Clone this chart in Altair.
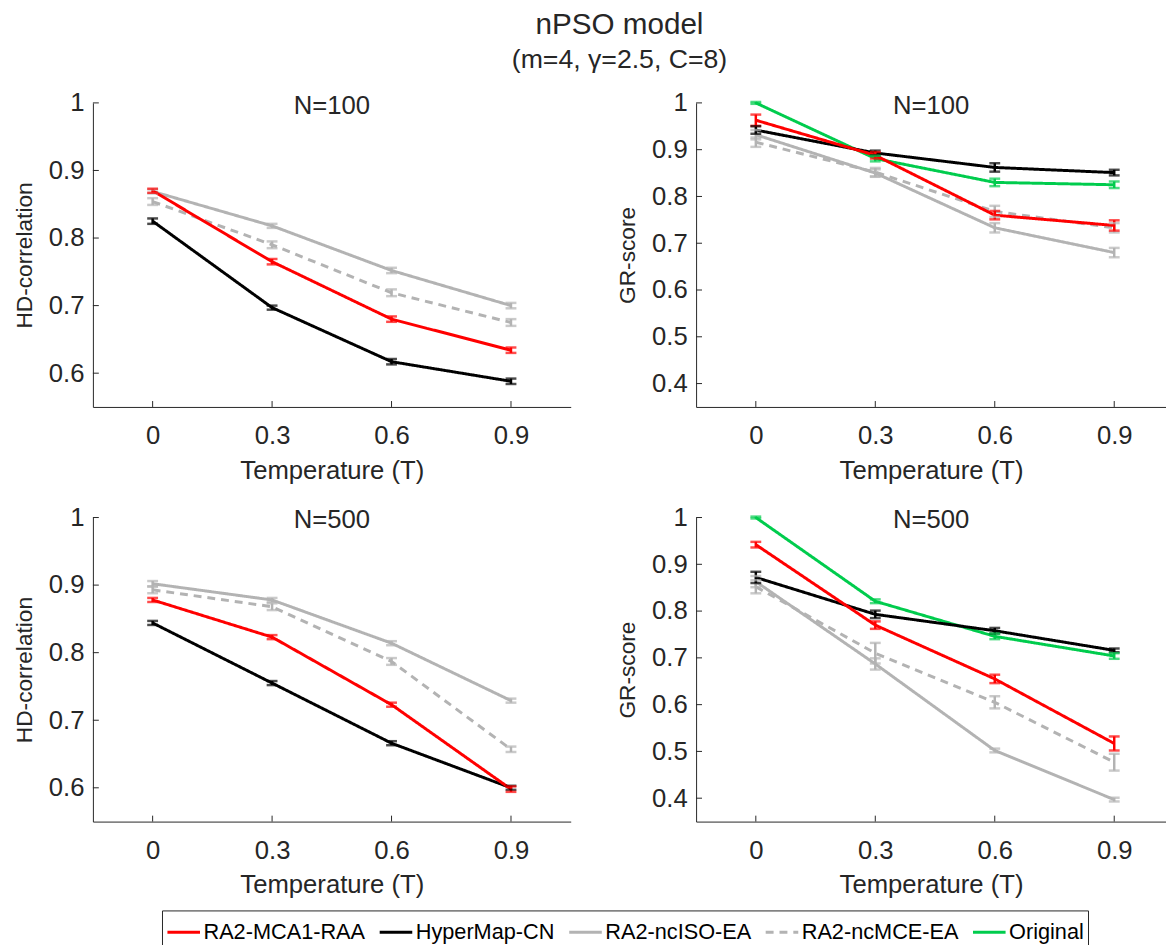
import altair as alt
import pandas as pd

# ---------------- data ----------------
T = [0, 0.3, 0.6, 0.9]
methods = ["RA2-MCA1-RAA", "HyperMap-CN", "RA2-ncISO-EA", "RA2-ncMCE-EA", "Original"]
colors = ["#FF0000", "#000000", "#B3B3B3", "#B3B3B3", "#00CC4D"]
dashes = [[1, 0], [1, 0], [1, 0], [8, 6], [1, 0]]

# HD-correlation, N=100
hd100_mca = [0.870, 0.765, 0.680, 0.634]
hd100_hyp = [0.825, 0.697, 0.617, 0.588]
hd100_iso = [0.869, 0.818, 0.752, 0.700]
hd100_mce = [0.854, 0.790, 0.719, 0.675]
hd100_mca_e = [0.003, 0.004, 0.004, 0.004]
hd100_hyp_e = [0.004, 0.003, 0.004, 0.004]
hd100_iso_e = [0.003, 0.003, 0.004, 0.004]
hd100_mce_e = [0.005, 0.005, 0.005, 0.005]

# GR-score, N=100
gr100_mca = [0.963, 0.888, 0.760, 0.738]
gr100_hyp = [0.942, 0.893, 0.862, 0.851]
gr100_iso = [0.932, 0.850, 0.733, 0.680]
gr100_mce = [0.916, 0.852, 0.768, 0.733]
gr100_org = [1.000, 0.881, 0.830, 0.825]
gr100_mca_e = [0.012, 0.007, 0.009, 0.011]
gr100_hyp_e = [0.008, 0.005, 0.009, 0.006]
gr100_iso_e = [0.010, 0.008, 0.010, 0.010]
gr100_mce_e = [0.010, 0.009, 0.012, 0.010]
gr100_org_e = [0.002, 0.006, 0.008, 0.007]

# HD-correlation, N=500
hd500_mca = [0.878, 0.823, 0.723, 0.598]
hd500_hyp = [0.844, 0.755, 0.666, 0.600]
hd500_iso = [0.902, 0.878, 0.814, 0.729]
hd500_mce = [0.893, 0.868, 0.787, 0.657]
hd500_mca_e = [0.003, 0.003, 0.003, 0.004]
hd500_hyp_e = [0.003, 0.003, 0.003, 0.003]
hd500_iso_e = [0.004, 0.003, 0.003, 0.003]
hd500_mce_e = [0.005, 0.005, 0.005, 0.004]

# GR-score, N=500
gr500_mca = [0.942, 0.770, 0.655, 0.517]
gr500_hyp = [0.872, 0.793, 0.758, 0.716]
gr500_iso = [0.863, 0.687, 0.502, 0.397]
gr500_mce = [0.852, 0.710, 0.605, 0.477]
gr500_org = [1.000, 0.821, 0.746, 0.704]
gr500_mca_e = [0.006, 0.008, 0.009, 0.015]
gr500_hyp_e = [0.012, 0.008, 0.006, 0.004]
gr500_iso_e = [0.012, 0.012, 0.004, 0.004]
gr500_mce_e = [0.014, 0.022, 0.013, 0.018]
gr500_org_e = [0.002, 0.004, 0.006, 0.006]

hd_ticks = [0.6, 0.7, 0.8, 0.9, 1.0]
gr_ticks = [0.4, 0.5, 0.6, 0.7, 0.8, 0.9, 1.0]

# ---------------- styling ----------------
FONT = "Liberation Sans"
AX = "#262626"
W_L, W_R, H = 484, 476, 308
LEG_X, LEG_Y = 70, 818


def make_df(series):
    rows = []
    for name, vals, errs in series:
        for t, v, e in zip(T, vals, errs):
            rows.append({"method": name, "T": t, "v": v, "lo": v - e, "hi": v + e})
    return pd.DataFrame(rows)


def legend():
    return alt.Legend(title=None, orient="none", legendX=LEG_X, legendY=LEG_Y,
                      direction="horizontal", labelLimit=400)


color_enc = alt.Color("method:N", scale=alt.Scale(domain=methods, range=colors), legend=legend())
dash_enc = alt.StrokeDash("method:N", scale=alt.Scale(domain=methods, range=dashes), legend=legend())
color_noleg = alt.Color("method:N", scale=alt.Scale(domain=methods, range=colors), legend=None)


def panel(df, ytitle, title, ydom, yticks, width, xdom):
    xs = alt.Scale(domain=xdom, nice=False, zero=False)
    ys = alt.Scale(domain=ydom, nice=False, zero=False)
    x = alt.X("T:Q", scale=xs,
              axis=alt.Axis(values=T, title="Temperature (T)", ticks=False, grid=False,
                            labelExpr="datum.value == 0 ? '0' : format(datum.value, '.1f')"))
    y = alt.Y("v:Q", scale=ys,
              axis=alt.Axis(values=yticks, title=ytitle, ticks=False, grid=False,
                            labelExpr="datum.value == 1 ? '1' : format(datum.value, '.1f')"))
    base = alt.Chart(df)
    lines = base.mark_line(strokeWidth=3, clip=False).encode(
        x=x, y=y, color=color_enc, strokeDash=dash_enc, order=alt.Order("T:Q"))
    whisk = base.mark_rule(strokeWidth=2.5).encode(x="T:Q", y="lo:Q", y2="hi:Q", color=color_noleg)
    cap_lo = base.mark_tick(orient="horizontal", size=11, thickness=2.5).encode(
        x="T:Q", y="lo:Q", color=color_noleg)
    cap_hi = base.mark_tick(orient="horizontal", size=11, thickness=2.5).encode(
        x="T:Q", y="hi:Q", color=color_noleg)
    ytk = alt.Chart(pd.DataFrame({"v": yticks})).mark_rule(color=AX, strokeWidth=1).encode(
        y="v:Q", x=alt.value(0), x2=alt.value(6))
    xtk = alt.Chart(pd.DataFrame({"T": T})).mark_rule(color=AX, strokeWidth=1).encode(
        x="T:Q", y=alt.value(H), y2=alt.value(H - 6))
    return alt.layer(lines, whisk, cap_lo, cap_hi, ytk, xtk).properties(
        width=width, height=H,
        title=alt.TitleParams(title, offset=-50, fontSize=26, font=FONT, fontWeight="normal",
                              color=AX, anchor="middle", baseline="alphabetic"))


hd100 = make_df([("RA2-ncISO-EA", hd100_iso, hd100_iso_e), ("RA2-ncMCE-EA", hd100_mce, hd100_mce_e),
                 ("HyperMap-CN", hd100_hyp, hd100_hyp_e), ("RA2-MCA1-RAA", hd100_mca, hd100_mca_e)])
gr100 = make_df([("RA2-ncISO-EA", gr100_iso, gr100_iso_e), ("RA2-ncMCE-EA", gr100_mce, gr100_mce_e),
                 ("Original", gr100_org, gr100_org_e), ("HyperMap-CN", gr100_hyp, gr100_hyp_e),
                 ("RA2-MCA1-RAA", gr100_mca, gr100_mca_e)])
hd500 = make_df([("RA2-ncISO-EA", hd500_iso, hd500_iso_e), ("RA2-ncMCE-EA", hd500_mce, hd500_mce_e),
                 ("HyperMap-CN", hd500_hyp, hd500_hyp_e), ("RA2-MCA1-RAA", hd500_mca, hd500_mca_e)])
gr500 = make_df([("RA2-ncISO-EA", gr500_iso, gr500_iso_e), ("RA2-ncMCE-EA", gr500_mce, gr500_mce_e),
                 ("Original", gr500_org, gr500_org_e), ("HyperMap-CN", gr500_hyp, gr500_hyp_e),
                 ("RA2-MCA1-RAA", gr500_mca, gr500_mca_e)])

p1 = panel(hd100, "HD-correlation", "N=100", [0.55, 1.0], hd_ticks, W_L, [-0.15, 1.05])
p2 = panel(gr100, "GR-score", "N=100", [0.35, 1.0], gr_ticks, W_R, [-0.15, 1.03])
p3 = panel(hd500, "HD-correlation", "N=500", [0.55, 1.0], hd_ticks, W_L, [-0.15, 1.05])
p4 = panel(gr500, "GR-score", "N=500", [0.35, 1.0], gr_ticks, W_R, [-0.15, 1.03])

row1 = alt.hconcat(p1, p2, spacing=46)
row2 = alt.hconcat(p3, p4, spacing=46)

chart = alt.vconcat(row1, row2, spacing=22).properties(
    title=alt.TitleParams("nPSO model", subtitle="(m=4, γ=2.5, C=8)", anchor="middle",
                          fontSize=30, subtitleFontSize=27, font=FONT, subtitleFont=FONT,
                          fontWeight="normal", color=AX, subtitleColor=AX, subtitlePadding=8,
                          offset=17, dx=30),
    padding={"left": 5, "top": -4, "right": 0, "bottom": 0},
).configure_view(stroke=None).configure_axis(
    labelFont=FONT, titleFont=FONT, labelFontSize=26, titleFontSize=26,
    labelColor=AX, titleColor=AX, domainColor=AX, domainWidth=1, titleFontWeight="normal",
).configure_axisY(titlePadding=12, titleFontSize=23, labelPadding=9).configure_axisX(
    titlePadding=9, labelPadding=16).configure_legend(
    symbolType="stroke", symbolSize=1089, symbolStrokeWidth=3, labelFont=FONT, labelFontSize=22,
    labelColor="#000000", columnPadding=8, labelOffset=2, padding=4, strokeColor=AX,
    fillColor="white", symbolOpacity=1, labelLimit=400,
)

chart.save("out.html", embed_options={"renderer": "svg", "actions": False})
